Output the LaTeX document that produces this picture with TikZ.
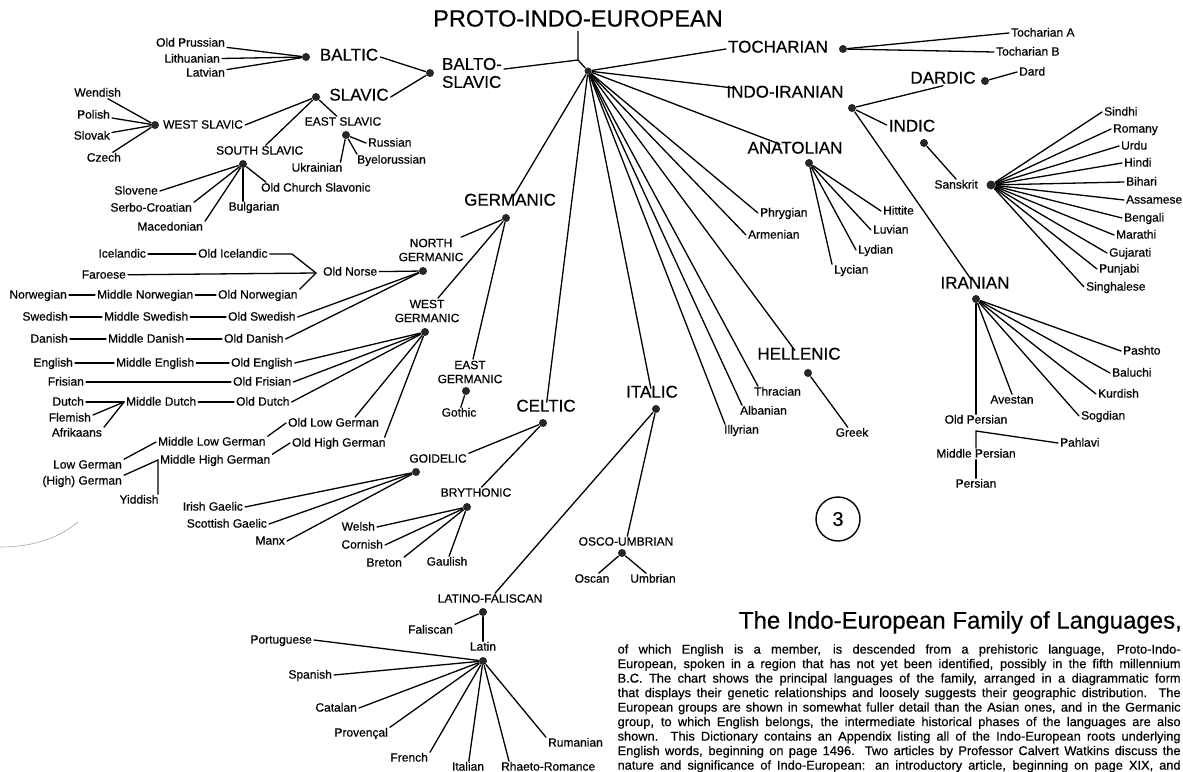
\documentclass[tikz,border=0pt]{standalone}
\usepackage{fontspec}
\setmainfont{Liberation Sans}[FakeBold=0.5]

\begin{document}
\begin{tikzpicture}[x=1pt, y=-1pt, line width=1.3pt, line cap=round,
  toptitle/.style={font=\fontsize{23.5}{26}\selectfont, inner sep=1pt, text height=.72em, text depth=0pt},
  family/.style={font=\fontsize{17}{18}\selectfont, inner sep=1.5pt, text height=.72em, text depth=0pt},
  family2/.style={font=\fontsize{17}{18}\selectfont, inner sep=1.5pt, align=left},
  lang/.style={font=\fontsize{12}{13}\selectfont, inner sep=1.5pt, text height=.72em, text depth=0pt},
  grp/.style={font=\fontsize{12}{14}\selectfont, inner sep=1pt, align=center},
  para/.style={font=\fontsize{12.8}{13}\selectfont, inner sep=0pt, text height=.72em, text depth=0pt},
  captiontitle/.style={font=\fontsize{24}{26}\selectfont, inner sep=.5pt, text height=.72em, text depth=0pt},
  bdot/.style={circle, fill=black!85, inner sep=0pt, minimum size=8pt}]
  \useasboundingbox (0,0) rectangle (1183,771);
  \clip (0,0) rectangle (1183,771);

  % root
  \node[toptitle] (pie) at (578,23) {PROTO-INDO-EUROPEAN};
  \coordinate (root) at (578,60);
  \node[bdot, minimum size=7pt] (hub) at (588,71) {};
  \draw ([yshift=-3pt]pie.south) -- (root) -- (hub);

  % balto-slavic
  \node[family2] (baltoslavic) at (472,73) {BALTO-\\SLAVIC};
  \node[bdot] (baltoslavicd) at (430,73) {};
  \draw (root) -- (baltoslavic);
  \node[family] (baltic) at (349,57) {BALTIC};
  \node[bdot] (balticd) at (306,57) {};
  \node[family] (slavic) at (359,97) {SLAVIC};
  \node[bdot] (slavicd) at (316,97) {};
  \draw (baltoslavicd) -- (baltic.east);
  \draw (baltoslavicd) -- (slavic.east);
  \node[lang, left] (oprussian) at (227,43) {Old Prussian};
  \node[lang, left] (lithuanian) at (222,59) {Lithuanian};
  \node[lang, left] (latvian) at (227,73) {Latvian};
  \draw (oprussian) -- (balticd);
  \draw (lithuanian) -- (balticd);
  \draw (latvian) -- (balticd);

  \node[lang, right] (wslavic) at (161,125) {WEST SLAVIC};
  \node[bdot] (wslavicd) at (155,125) {};
  \draw (slavicd) -- (wslavic.east);
  \node[lang, left] (wendish) at (123,93) {Wendish};
  \node[lang, left] (polish) at (112,115) {Polish};
  \node[lang, left] (slovak) at (112,136) {Slovak};
  \node[lang, left] (czech) at (123,158) {Czech};
  \draw (wendish) -- (wslavicd);
  \draw (polish) -- (wslavicd);
  \draw (slovak) -- (wslavicd);
  \draw (czech) -- (wslavicd);

  \node[lang, right] (sslavic) at (214,151) {SOUTH SLAVIC};
  \node[bdot] (sslavicd) at (243,164) {};
  \draw (slavicd) -- (sslavic);
  \node[lang, left] (slovene) at (160,191) {Slovene};
  \node[lang, left] (serbocroatian) at (194,208) {Serbo-Croatian};
  \node[lang, left] (macedonian) at (205,227) {Macedonian};
  \node[lang] (bulgarian) at (254,207) {Bulgarian};
  \node[lang, right] (ochurch) at (259,188) {Old Church Slavonic};
  \draw (slovene.east) -- (sslavicd);
  \draw (serbocroatian.north east) -- (sslavicd);
  \draw (macedonian.north east) -- (sslavicd);
  \draw (sslavicd) -- (sslavicd |- bulgarian.north);
  \draw (sslavicd) -- ([xshift=7pt]ochurch.north west);

  \node[lang] (eslavic) at (343,122) {EAST SLAVIC};
  \node[bdot] (eslavicd) at (346,135) {};
  \draw (slavicd) -- (eslavic);
  \node[lang, right] (russian) at (366,143) {Russian};
  \node[lang, right] (byelorussian) at (355,160) {Byelorussian};
  \node[lang] (ukrainian) at (317,168) {Ukrainian};
  \draw (eslavicd) -- (russian.west);
  \draw (eslavicd) -- ([xshift=2pt]byelorussian.north west);
  \draw (eslavicd) -- ([xshift=-4pt]ukrainian.north east);

  % germanic
  \node[family] (germanic) at (510,202) {GERMANIC};
  \node[bdot] (germanicd) at (506,218) {};
  \draw (hub) -- (germanic);
  \node[grp] (ngermanic) at (431,250) {NORTH\\GERMANIC};
  \node[bdot] (ngermanicd) at (423,271) {};
  \node[grp] (wgermanic) at (427,311) {WEST\\GERMANIC};
  \node[bdot] (wgermanicd) at (425,332) {};
  \node[grp] (egermanic) at (470,372) {EAST\\GERMANIC};
  \node[bdot] (egermanicd) at (466,391) {};
  \draw (germanicd) -- (ngermanic);
  \draw (germanicd) -- (wgermanic);
  \draw (germanicd) -- (egermanic);
  \node[lang] (gothic) at (459,413) {Gothic};
  \draw (egermanicd) -- (gothic);

  \node[lang, right] (oldnorse) at (321,272) {Old Norse};
  \coordinate (norse) at (316,273);
  \coordinate (icebend) at (292,254);
  \draw (oldnorse) -- (ngermanicd);
  \node[lang, left] (icelandic) at (148,254) {Icelandic};
  \node[lang, right] (oicelandic) at (196,254) {Old Icelandic};
  \draw (icelandic) -- (oicelandic);
  \draw (oicelandic) -- (icebend) -- (norse);
  \node[lang, left] (faroese) at (128,275) {Faroese};
  \draw (faroese) -- (norse);
  \node[lang, left] (norwegian) at (69,295) {Norwegian};
  \node[lang, right] (mnorwegian) at (95,295) {Middle Norwegian};
  \node[lang, right] (onorwegian) at (216,295) {Old Norwegian};
  \draw (norwegian) -- (mnorwegian);
  \draw (mnorwegian) -- (onorwegian);
  \draw (onorwegian.north east) -- (norse);
  \node[lang, left] (swedish) at (70,317) {Swedish};
  \node[lang, right] (mswedish) at (102,317) {Middle Swedish};
  \node[lang, right] (oswedish) at (226,317) {Old Swedish};
  \draw (swedish) -- (mswedish);
  \draw (mswedish) -- (oswedish);
  \draw (oswedish.east) -- (ngermanicd);
  \node[lang, left] (danish) at (70,339) {Danish};
  \node[lang, right] (mdanish) at (106,339) {Middle Danish};
  \node[lang, right] (odanish) at (222,339) {Old Danish};
  \draw (danish) -- (mdanish);
  \draw (mdanish) -- (odanish);
  \draw (odanish.east) -- (ngermanicd);

  \node[lang, left] (english) at (75,363) {English};
  \node[lang, right] (menglish) at (114,363) {Middle English};
  \node[lang, right] (oenglish) at (229,363) {Old English};
  \draw (english) -- (menglish);
  \draw (menglish) -- (oenglish);
  \draw (oenglish.east) -- (wgermanicd);
  \node[lang, left] (frisian) at (86,382) {Frisian};
  \node[lang, right] (ofrisian) at (231,382) {Old Frisian};
  \draw (frisian) -- (ofrisian);
  \draw (ofrisian.east) -- (wgermanicd);
  \node[lang, left] (dutch) at (86,402) {Dutch};
  \node[lang, right] (mdutch) at (124,402) {Middle Dutch};
  \node[lang, right] (odutch) at (234,402) {Old Dutch};
  \node[lang, left] (flemish) at (93,418) {Flemish};
  \node[lang, left] (afrikaans) at (104,433) {Afrikaans};
  \draw (dutch) -- (mdutch.west);
  \draw ([yshift=3pt]flemish.east) -- (mdutch.west);
  \draw (afrikaans.north east) -- (mdutch.west);
  \draw (mdutch) -- (odutch);
  \draw (odutch.east) -- (wgermanicd);

  \node[lang, right] (olowgerman) at (286,423) {Old Low German};
  \node[lang, right] (ohighgerman) at (290,443) {Old High German};
  \draw (wgermanicd) -- ([xshift=-26pt]olowgerman.north east);
  \draw (wgermanicd) -- ([xshift=-3pt]ohighgerman.north east);
  \node[lang, right] (mlowgerman) at (156,442) {Middle Low German};
  \node[lang, right] (mhighgerman) at (158,460) {Middle High German};
  \draw (mlowgerman.north east) -- (olowgerman.west);
  \draw (mhighgerman.north east) -- (ohighgerman.west);
  \node[lang, left] (lowgerman) at (124,465) {Low German};
  \node[lang, left] (highgerman) at (124,481) {(High) German};
  \node[lang] (yiddish) at (139,500) {Yiddish};
  \draw (lowgerman.north east) -- (mlowgerman.west);
  \draw (highgerman.north east) -- (mhighgerman.west) -- (mhighgerman.west |- yiddish.north);

  % celtic
  \node[family] (celtic) at (546,408) {CELTIC};
  \node[bdot] (celticd) at (543,423) {};
  \draw (hub) -- (celtic);
  \node[lang] (goidelic) at (438,459) {GOIDELIC};
  \node[bdot] (goidelicd) at (416,472) {};
  \draw (celticd) -- (goidelic.north east);
  \node[lang, left] (irish) at (245,507) {Irish Gaelic};
  \node[lang, left] (scottish) at (269,524) {Scottish Gaelic};
  \node[lang, left] (manx) at (287,541) {Manx};
  \draw (irish.east) -- (goidelicd);
  \draw (scottish.east) -- (goidelicd);
  \draw (manx.east) -- (goidelicd);
  \node[lang] (brythonic) at (476,493) {BRYTHONIC};
  \node[bdot] (brythonicd) at (467,507) {};
  \draw (celticd) -- (brythonic);
  \node[lang, left] (welsh) at (377,527) {Welsh};
  \node[lang, left] (cornish) at (385,545) {Cornish};
  \node[lang, left] (breton) at (404,563) {Breton};
  \node[lang] (gaulish) at (447,562) {Gaulish};
  \draw (welsh.east) -- (brythonicd);
  \draw (cornish.east) -- (brythonicd);
  \draw (breton.north east) -- (brythonicd);
  \draw (gaulish) -- (brythonicd);

  % italic
  \node[family] (italic) at (652,394) {ITALIC};
  \node[bdot] (italicd) at (656,409) {};
  \draw (hub) -- (italic);
  \node[lang] (oscoumbrian) at (626,542) {OSCO-UMBRIAN};
  \node[bdot] (oscoumbriand) at (622,553) {};
  \draw (italicd) -- (oscoumbrian);
  \node[lang] (oscan) at (592,579) {Oscan};
  \node[lang] (umbrian) at (653,579) {Umbrian};
  \draw (oscoumbriand) -- (oscan);
  \draw (oscoumbriand) -- (umbrian);
  \node[lang] (latinofaliscan) at (490,599) {LATINO-FALISCAN};
  \node[bdot] (latinofaliscand) at (483,612) {};
  \draw (italicd) -- (latinofaliscan);
  \node[lang, left] (faliscan) at (455,630) {Faliscan};
  \node[lang] (latin) at (483,647) {Latin};
  \node[bdot] (latind) at (483,661) {};
  \draw (latinofaliscand) -- (faliscan.north east);
  \draw (latinofaliscand) -- (latin);
  \node[lang, left] (portuguese) at (314,640) {Portuguese};
  \node[lang, left] (spanish) at (334,675) {Spanish};
  \node[lang, left] (catalan) at (359,708) {Catalan};
  \node[lang, left] (provencal) at (390,733) {Provençal};
  \node[lang, left] (french) at (430,758) {French};
  \node[lang] (italian) at (468,767) {Italian};
  \node[lang, right] (rhaetoromance) at (499,767) {Rhaeto-Romance};
  \node[lang, right] (rumanian) at (546,743) {Rumanian};
  \draw (portuguese.east) -- (latind);
  \draw (spanish.east) -- (latind);
  \draw (catalan.east) -- (latind);
  \draw (provencal.north east) -- (latind);
  \draw (french.north east) -- (latind);
  \draw (latind) -- (italian);
  \draw (latind) -- ([xshift=10pt]rhaetoromance.north west);
  \draw (latind) -- (rumanian.north west);

  % single languages and hellenic
  \node[lang, right] (phrygian) at (758,213) {Phrygian};
  \node[lang, right] (armenian) at (746,235) {Armenian};
  \draw (hub) -- (phrygian.west);
  \draw (hub) -- (armenian.west);
  \node[lang, right] (thracian) at (752,392) {Thracian};
  \node[lang, right] (albanian) at (738,411) {Albanian};
  \node[lang, right] (illyrian) at (722,430) {Illyrian};
  \draw (hub) -- ([xshift=6pt]thracian.north west);
  \draw (hub) -- ([xshift=4pt]albanian.north west);
  \draw (hub) -- ([xshift=3pt]illyrian.north west);
  \node[family] (hellenic) at (799,356) {HELLENIC};
  \node[bdot] (hellenicd) at (808,373) {};
  \node[lang] (greek) at (852,433) {Greek};
  \draw (hub) -- (hellenic);
  \draw (hellenicd) -- (greek);

  % anatolian
  \node[family] (anatolian) at (795,150) {ANATOLIAN};
  \node[bdot] (anatoliand) at (809,163) {};
  \draw (hub) -- (anatolian);
  \node[lang, right] (hittite) at (881,211) {Hittite};
  \node[lang, right] (luvian) at (871,230) {Luvian};
  \node[lang, right] (lydian) at (856,250) {Lydian};
  \node[lang, right] (lycian) at (832,270) {Lycian};
  \draw (anatoliand) -- (hittite.west);
  \draw (anatoliand) -- (luvian.west);
  \draw (anatoliand) -- (lydian.west);
  \draw (anatoliand) -- (lycian.north west);

  % tocharian
  \node[family] (tocharian) at (778,49) {TOCHARIAN};
  \node[bdot] (tochariand) at (843,49) {};
  \draw (hub) -- (tocharian.west);
  \node[lang, right] (tocharianA) at (1009,33) {Tocharian A};
  \node[lang, right] (tocharianB) at (994,52) {Tocharian B};
  \draw (tochariand) -- (tocharianA.west);
  \draw (tochariand) -- (tocharianB.west);

  % indo-iranian
  \node[family] (indoiranian) at (785,94) {INDO-IRANIAN};
  \node[bdot] (indoiraniand) at (852,108) {};
  \draw (hub) -- (indoiranian);
  \node[family] (dardic) at (943,80) {DARDIC};
  \node[bdot] (dardicd) at (985,81) {};
  \node[lang, right] (dard) at (1017,72) {Dard};
  \draw (indoiraniand) -- (dardic.south);
  \draw (dardicd) -- (dard.west);
  \node[family] (indic) at (912,128) {INDIC};
  \node[bdot] (indicd) at (924,143) {};
  \draw (indoiraniand) -- ([yshift=3pt]indic.west);
  \node[lang, left] (sanskrit) at (980,185) {Sanskrit};
  \node[bdot, minimum size=9pt] (sanskritd) at (991,185) {};
  \draw (indicd) -- (sanskrit.north);
  \node[lang, right] (sindhi) at (1102,112) {Sindhi};
  \node[lang, right] (romany) at (1111,129) {Romany};
  \node[lang, right] (urdu) at (1119,146) {Urdu};
  \node[lang, right] (hindi) at (1122,163) {Hindi};
  \node[lang, right] (bihari) at (1124,182) {Bihari};
  \node[lang, right] (assamese) at (1124,200) {Assamese};
  \node[lang, right] (bengali) at (1122,218) {Bengali};
  \node[lang, right] (marathi) at (1114,235) {Marathi};
  \node[lang, right] (gujarati) at (1107,253) {Gujarati};
  \node[lang, right] (punjabi) at (1097,269) {Punjabi};
  \node[lang, right] (singhalese) at (1084,287) {Singhalese};
  \draw (sanskritd) -- (sindhi.west);
  \draw (sanskritd) -- (romany.west);
  \draw (sanskritd) -- (urdu.west);
  \draw (sanskritd) -- (hindi.west);
  \draw (sanskritd) -- (bihari.west);
  \draw (sanskritd) -- (assamese.west);
  \draw (sanskritd) -- (bengali.west);
  \draw (sanskritd) -- (marathi.west);
  \draw (sanskritd) -- (gujarati.west);
  \draw (sanskritd) -- (punjabi.west);
  \draw (sanskritd) -- (singhalese.west);

  \node[family] (iranian) at (975,285) {IRANIAN};
  \node[bdot] (iraniand) at (976,299) {};
  \draw (indoiraniand) -- (iranian);
  \node[lang, right] (pashto) at (1121,351) {Pashto};
  \node[lang, right] (baluchi) at (1110,373) {Baluchi};
  \node[lang, right] (kurdish) at (1096,394) {Kurdish};
  \node[lang, right] (sogdian) at (1079,416) {Sogdian};
  \node[lang] (avestan) at (1012,400) {Avestan};
  \node[lang] (oldpersian) at (976,420) {Old Persian};
  \draw (iraniand) -- (pashto.west);
  \draw (iraniand) -- (baluchi.west);
  \draw (iraniand) -- (kurdish.west);
  \draw (iraniand) -- (sogdian.west);
  \draw (iraniand) -- (avestan.north);
  \draw (iraniand) -- (oldpersian);
  \coordinate (pahlavij) at (976,431);
  \node[lang, right] (pahlavi) at (1058,443) {Pahlavi};
  \node[lang] (mpersian) at (976,454) {Middle Persian};
  \node[lang] (persian) at (976,484) {Persian};
  \draw (pahlavi.west) -- (pahlavij) -- (mpersian);
  \draw (mpersian) -- (persian);

  % plate number
  \node[draw, circle, minimum size=44pt, inner sep=0pt, line width=1.4pt,
    font=\fontsize{20}{20}\selectfont] (plate) at (838,519) {3};

  % caption
  \node[captiontitle, left] (captitle) at (1183,625) {The Indo-European Family of Languages,};
  \node[para, right] (line1) at (617,650) {\makebox[563pt][s]{of which English is a member, is descended from a prehistoric language, Proto-Indo-}};
  \node[para, right] (line2) at (617,664.5) {\makebox[563pt][s]{European, spoken in a region that has not yet been identified, possibly in the fifth millennium}};
  \node[para, right] (line3) at (617,679) {\makebox[563pt][s]{B.C. The chart shows the principal languages of the family, arranged in a diagrammatic form}};
  \node[para, right] (line4) at (617,693.5) {\makebox[563pt][s]{that displays their genetic relationships and loosely suggests their geographic distribution. The}};
  \node[para, right] (line5) at (617,708) {\makebox[563pt][s]{European groups are shown in somewhat fuller detail than the Asian ones, and in the Germanic}};
  \node[para, right] (line6) at (617,722.5) {\makebox[563pt][s]{group, to which English belongs, the intermediate historical phases of the languages are also}};
  \node[para, right] (line7) at (617,737) {\makebox[563pt][s]{shown. This Dictionary contains an Appendix listing all of the Indo-European roots underlying}};
  \node[para, right] (line8) at (617,751.5) {\makebox[563pt][s]{English words, beginning on page 1496. Two articles by Professor Calvert Watkins discuss the}};
  \node[para, right] (line9) at (617,766) {\makebox[563pt][s]{nature and significance of Indo-European: an introductory article, beginning on page XIX, and}};

  % faint mark at the left edge
  \draw[black!35, line width=.6pt] (0,547) .. controls (35,547) and (60,537) .. (78,522);
\end{tikzpicture}
\end{document}
